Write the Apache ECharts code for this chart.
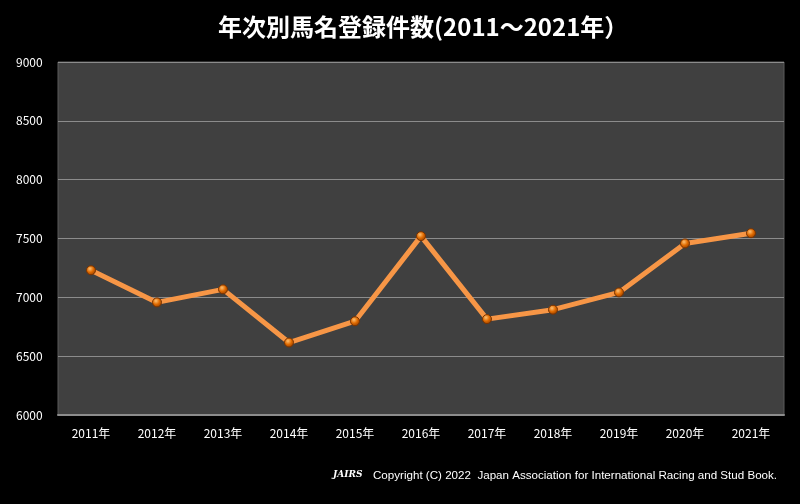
<!DOCTYPE html>
<html>
<head>
<meta charset="utf-8">
<script src="https://cdn.jsdelivr.net/npm/echarts@6/dist/echarts.min.js"></script>
<style>
html,body{margin:0;padding:0;background:#000;}
#c{width:800px;height:504px;}
</style>
</head>
<body>
<div id="c"></div>
<script>
const titleText = '年次別馬名登録件数(2011～2021年）';
const categories = ['2011年','2012年','2013年','2014年','2015年','2016年','2017年','2018年','2019年','2020年','2021年'];
const registrations = [7230, 6957, 7068, 6616, 6797, 7520, 6815, 6895, 7042, 7458, 7545];
const yMin = 6000, yMax = 9000, yStep = 500;
const copyrightText = 'Copyright (C) 2022  Japan Association for International Racing and Stud Book.';

const chart = echarts.init(document.getElementById('c'));
chart.setOption({
  backgroundColor: '#000000',
  animation: false,
  title: {
    text: titleText,
    left: 213,
    top: 10,
    textStyle: {color: '#ffffff', fontSize: 24, fontWeight: 'bold', fontFamily: 'Noto Sans CJK JP'}
  },
  grid: {left: 58, right: 16, top: 62, bottom: 89, show: true, backgroundColor: '#404040', borderColor: '#5a5a5a', borderWidth: 1},
  xAxis: {
    type: 'category',
    data: categories,
    boundaryGap: true,
    axisLine: {show: true, lineStyle: {color: '#8c8c8c', width: 2}},
    axisTick: {show: false},
    axisLabel: {color: '#ffffff', fontSize: 12, margin: 12, fontFamily: 'Noto Sans CJK JP'}
  },
  yAxis: {
    type: 'value',
    min: yMin, max: yMax, interval: yStep,
    axisLine: {show: false},
    axisTick: {show: false},
    splitLine: {lineStyle: {color: '#8c8c8c', width: 1}},
    axisLabel: {color: '#ffffff', fontSize: 12, align: 'left', margin: 42, fontFamily: 'Noto Sans CJK JP', formatter: function (v) { return String(v); }}
  },
  series: [{
    type: 'line',
    data: registrations,
    symbol: 'circle',
    symbolSize: 9,
    lineStyle: {color: '#f79646', width: 5},
    itemStyle: {
      color: new echarts.graphic.RadialGradient(0.4, 0.35, 0.7, [
        {offset: 0, color: '#ffc070'},
        {offset: 0.5, color: '#e06a00'},
        {offset: 1, color: '#8a3a00'}
      ]),
      borderColor: '#7a3300',
      borderWidth: 1
    },
    z: 3
  }],
  graphic: [
    {
      type: 'text', left: 333, top: 470,
      style: {text: 'JAIRS', fill: '#ffffff', font: 'italic bold 9px "DejaVu Serif"'}
    },
    {
      type: 'text', left: 373, top: 470,
      style: {text: copyrightText, fill: '#ffffff', font: '11.6px "Liberation Sans Narrow", "Liberation Sans", sans-serif'}
    }
  ]
});
</script>
</body>
</html>
